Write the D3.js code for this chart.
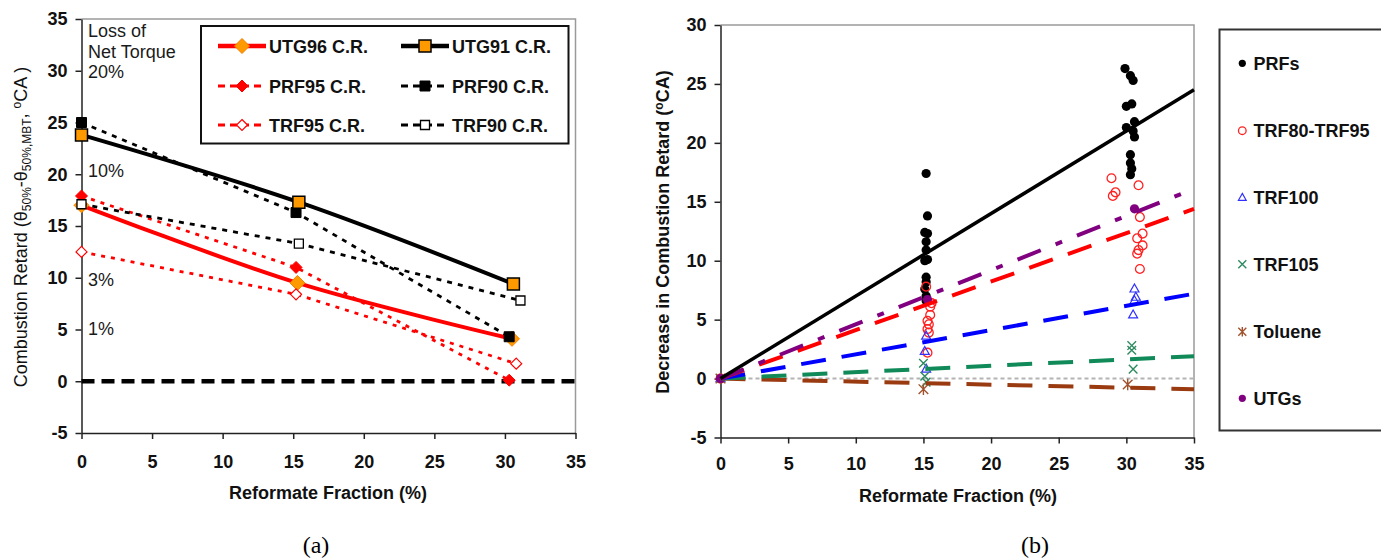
<!DOCTYPE html>
<html><head><meta charset="utf-8">
<script src="https://cdn.jsdelivr.net/npm/d3@7"></script>
<style>
html,body{margin:0;padding:0;background:#fff;}
svg{display:block;font-family:"Liberation Sans",Arial,sans-serif;}
</style></head><body>
<svg id="chart" width="1381" height="559"></svg>
<script>
// ================= Panel (a) data =================
const aSeriesNames = ["UTG96 C.R.", "UTG91 C.R.", "PRF95 C.R.", "PRF90 C.R.", "TRF95 C.R.", "TRF90 C.R."];
const utg96X = [0, 15.3, 30.5], utg96Y = [17.0, 9.5, 4.1];
const utg91X = [0, 15.4, 30.6], utg91Y = [23.8, 17.3, 9.4];
const prf95X = [0, 15.2, 30.3], prf95Y = [17.9, 11.0, 0.1];
const prf90X = [0, 15.2, 30.3], prf90Y = [25.0, 16.3, 4.3];
const trf95X = [0, 15.2, 30.8], trf95Y = [12.5, 8.4, 1.7];
const trf90X = [0, 15.4, 31.1], trf90Y = [17.1, 13.3, 7.8];
const aXTicks = [0, 5, 10, 15, 20, 25, 30, 35];
const aYTicks = [-5, 0, 5, 10, 15, 20, 25, 30, 35];
const torqueTitle = ["Loss of", "Net Torque"];
const torqueLabels = ["20%", "10%", "3%", "1%"];
const torqueY = [29.9, 20.3, 9.8, 5.1];

// ================= Panel (b) data =================
const prfX = [0, 15.2, 15.3, 15.1, 15.3, 15.2, 15.2, 15.3, 15.1, 15.2, 15.2, 15.1, 15.2, 15.2,
              29.9, 30.3, 30.5, 30.0, 30.4, 30.6, 30.0, 30.5, 30.6, 30.3, 30.3, 30.4, 30.3];
const prfY = [0, 17.4, 13.8, 12.4, 12.3, 11.6, 10.9, 10.1, 10.0, 8.6, 8.2, 7.6, 7.0, 6.6,
              26.3, 25.7, 25.3, 23.1, 23.3, 21.8, 21.3, 21.0, 20.5, 19.0, 18.3, 17.8, 17.3];
const trfX = [0, 15.2, 15.6, 15.5, 15.5, 15.3, 15.4, 15.3, 15.4, 15.3,
              28.9, 29.0, 29.2, 30.9, 31.0, 31.2, 30.8, 31.2, 30.9, 30.8, 31.0];
const trfY = [0, 7.8, 6.4, 6.1, 5.4, 4.9, 4.6, 4.2, 3.9, 2.2,
              17.0, 15.5, 15.8, 16.4, 13.7, 12.3, 11.9, 11.3, 10.9, 10.6, 9.3];
const trf100X = [0, 15.2, 15.1, 15.2, 30.6, 30.7, 30.6, 30.5];
const trf100Y = [0, 3.6, 2.3, 0.8, 7.6, 6.9, 6.6, 5.4];
const trf105X = [0, 15.0, 15.1, 15.2, 30.4, 30.4, 30.5];
const trf105Y = [0, 1.3, 0.2, -0.3, 2.8, 2.4, 0.8];
const tolX = [0, 15.0, 30.1], tolY = [0, -0.9, -0.5];
const utgX = [0, 15.3, 30.6], utgY = [0, 6.7, 14.4];
const bLegendNames = ["PRFs", "TRF80-TRF95", "TRF100", "TRF105", "Toluene", "UTGs"];
const trendNames = ["PRFs", "UTGs", "TRF80-TRF95", "TRF100", "TRF105", "Toluene"];
const trendEndX = [35, 35, 35, 35, 35, 35];
const trendEndY = [24.5, 16.1, 14.4, 7.2, 1.9, -0.9];
const bXTicks = [0, 5, 10, 15, 20, 25, 30, 35];
const bYTicks = [-5, 0, 5, 10, 15, 20, 25, 30];
const captions = ["(a)", "(b)"];

// ================= helpers =================
const svg = d3.select("#chart");
const diamond = h => `M0,${-h}L${h},0L0,${h}L${-h},0Z`;
const square = s => `M${-s/2},${-s/2}h${s}v${s}h${-s}Z`;
const triangle = s => `M0,${-s}L${s*0.9},${s*0.6}L${-s*0.9},${s*0.6}Z`;
const xmark = s => `M${-s},${-s}L${s},${s}M${-s},${s}L${s},${-s}`;
const star = s => `M${-s},${-s}L${s},${s}M${-s},${s}L${s},${-s}M0,${-s*1.2}L0,${s*1.2}`;
const circle = r => `M${r},0A${r},${r} 0 1,1 ${-r},0A${r},${r} 0 1,1 ${r},0Z`;
const zip = (xs, ys) => xs.map((x, i) => [x, ys[i]]);
const fmt = d => String(d);

function styleAxis(g) {
  g.selectAll(".domain").attr("stroke", "#222").attr("stroke-width", 1.5);
  g.selectAll(".tick line").attr("stroke", "#222").attr("stroke-width", 1.5);
  g.selectAll(".tick text").attr("font-size", 18).attr("font-weight", "bold").attr("fill", "#111")
    .attr("font-family", '"Liberation Sans",Arial,sans-serif');
}

// ================= Panel (a) =================
const xa = d3.scaleLinear().domain([0, 35]).range([81.5, 575.5]);
const ya = d3.scaleLinear().domain([-5, 35]).range([433, 19]);
const A = svg.append("g");

// frame (top/right)
A.append("path").attr("d", `M${xa(0)},${ya(35)}H${xa(35)}V${ya(-5)}`)
  .attr("fill", "none").attr("stroke", "#9a9a9a").attr("stroke-width", 1.5);

A.append("g").attr("transform", `translate(${xa(0)},0)`)
  .call(d3.axisLeft(ya).tickValues(aYTicks).tickSize(6).tickSizeOuter(0).tickPadding(8).tickFormat(fmt))
  .call(styleAxis);
A.append("g").attr("transform", `translate(0,${ya(-5)})`)
  .call(d3.axisBottom(xa).tickValues(aXTicks).tickSize(6).tickSizeOuter(0).tickPadding(16).tickFormat(fmt))
  .call(styleAxis);

// zero line
A.append("line").attr("x1", xa(0)).attr("x2", xa(35)).attr("y1", ya(0)).attr("y2", ya(0))
  .attr("stroke", "#000").attr("stroke-width", 4.5).attr("stroke-dasharray", "13,7");

const lineA = d3.line().x(d => xa(d[0])).y(d => ya(d[1]));
const smoothA = d3.line().x(d => xa(d[0])).y(d => ya(d[1])).curve(d3.curveCatmullRom.alpha(0.5));

const aSeries = [
  {name: aSeriesNames[0], data: zip(utg96X, utg96Y), color: "#ff0000", w: 4, dash: null, smooth: true,
   mark: diamond(7.5), mfill: "#ff9900", mstroke: "#f08000", msw: 1},
  {name: aSeriesNames[2], data: zip(prf95X, prf95Y), color: "#ff0000", w: 2.8, dash: "4,6",
   mark: diamond(6), mfill: "#ff0000", mstroke: "#ff0000", msw: 1},
  {name: aSeriesNames[4], data: zip(trf95X, trf95Y), color: "#ff0000", w: 2.8, dash: "4,6",
   mark: diamond(5.5), mfill: "#fff", mstroke: "#ff0000", msw: 1.2},
  {name: aSeriesNames[3], data: zip(prf90X, prf90Y), color: "#000", w: 2.8, dash: "5,6",
   mark: square(10), mfill: "#000", mstroke: "#000", msw: 1},
  {name: aSeriesNames[5], data: zip(trf90X, trf90Y), color: "#000", w: 2.8, dash: "5,6",
   mark: square(9), mfill: "#fff", mstroke: "#000", msw: 1.3},
  {name: aSeriesNames[1], data: zip(utg91X, utg91Y), color: "#000", w: 4, dash: null, smooth: true,
   mark: square(12), mfill: "#ff9900", mstroke: "#000", msw: 1.5}
];
aSeries.forEach(s => {
  A.append("path").attr("d", (s.smooth ? smoothA : lineA)(s.data)).attr("fill", "none")
    .attr("stroke", s.color).attr("stroke-width", s.w).attr("stroke-dasharray", s.dash);
  A.selectAll(null).data(s.data).enter().append("path")
    .attr("transform", d => `translate(${xa(d[0])},${ya(d[1])})`)
    .attr("d", s.mark).attr("fill", s.mfill).attr("stroke", s.mstroke).attr("stroke-width", s.msw);
});

// torque annotations
A.selectAll(null).data(torqueTitle).enter().append("text")
  .attr("x", 88).attr("y", (d, i) => 37 + i * 21).text(d => d)
  .attr("font-size", 18).attr("fill", "#1a1a1a");
A.selectAll(null).data(torqueLabels).enter().append("text")
  .attr("x", 88).attr("y", (d, i) => ya(torqueY[i])).attr("dy", "0.35em").text(d => d)
  .attr("font-size", 18).attr("fill", "#1a1a1a");

// legend (a)
A.append("rect").attr("x", 201).attr("y", 26).attr("width", 367.5).attr("height", 117.5)
  .attr("fill", "#fff").attr("stroke", "#111").attr("stroke-width", 2);
const legOrder = [0, 5, 1, 3, 2, 4]; // indexes into aSeries, row-wise: UTG96, UTG91, PRF95, PRF90, TRF95, TRF90
const legRows = [46, 86, 125];
legOrder.forEach((si, k) => {
  const s = aSeries[si];
  const col = k % 2, row = Math.floor(k / 2);
  const x0 = col === 0 ? 218 : 401, x1 = x0 + 48, cy = legRows[row];
  A.append("line").attr("x1", x0).attr("x2", x1).attr("y1", cy).attr("y2", cy)
    .attr("stroke", s.color).attr("stroke-width", s.dash ? 2.8 : 4.5).attr("stroke-dasharray", s.dash ? "7,5" : null);
  A.append("path").attr("transform", `translate(${(x0 + x1) / 2},${cy})`).attr("d", s.mark)
    .attr("fill", s.mfill).attr("stroke", s.mstroke).attr("stroke-width", s.msw);
  A.append("text").attr("x", x1 + 3).attr("y", cy + 6.5).text(s.name)
    .attr("font-size", 18).attr("font-weight", "bold").attr("fill", "#111");
});

// axis titles (a)
A.append("text").attr("x", 328).attr("y", 498.5).attr("text-anchor", "middle")
  .attr("font-size", 18).attr("font-weight", "bold").attr("fill", "#111").text("Reformate Fraction (%)");
const yt = A.append("text").attr("transform", "translate(27,227) rotate(-90)").attr("text-anchor", "middle")
  .attr("font-size", 18).attr("fill", "#111");
yt.append("tspan").text("Combustion Retard (θ");
yt.append("tspan").attr("font-size", 12).attr("dy", 4).text("50%");
yt.append("tspan").attr("dy", -4).text("-θ");
yt.append("tspan").attr("font-size", 12).attr("dy", 4).text("50%,MBT");
yt.append("tspan").attr("dy", -4).text(", ");
yt.append("tspan").attr("font-size", 12).attr("dy", -6).text("o");
yt.append("tspan").attr("dy", 6).text("CA )");

// ================= Panel (b) =================
const xb = d3.scaleLinear().domain([0, 35]).range([720.5, 1194]);
const yb = d3.scaleLinear().domain([-5, 30]).range([437.5, 25]);
const B = svg.append("g");

B.append("path").attr("d", `M${xb(0)},${yb(30)}H${xb(35)}V${yb(-5)}`)
  .attr("fill", "none").attr("stroke", "#9a9a9a").attr("stroke-width", 1.5);
B.append("g").attr("transform", `translate(${xb(0)},0)`)
  .call(d3.axisLeft(yb).tickValues(bYTicks).tickSize(6).tickSizeOuter(0).tickPadding(8).tickFormat(fmt))
  .call(styleAxis);
B.append("g").attr("transform", `translate(0,${yb(-5)})`)
  .call(d3.axisBottom(xb).tickValues(bXTicks).tickSize(6).tickSizeOuter(0).tickPadding(14).tickFormat(fmt))
  .call(styleAxis);

// zero reference line
B.append("line").attr("x1", xb(0)).attr("x2", xb(35)).attr("y1", yb(0)).attr("y2", yb(0))
  .attr("stroke", "#b4b4b4").attr("stroke-width", 2).attr("stroke-dasharray", "4,3");

const bSeries = [
  {name: "PRFs", data: zip(prfX, prfY), mark: circle(4.6), fill: "#000", stroke: "none", sw: 0, lmark: circle(3.6)},
  {name: "TRF80-TRF95", data: zip(trfX, trfY), mark: circle(4.4), fill: "none", stroke: "#ff2020", sw: 1.3, lmark: circle(3.8)},
  {name: "TRF100", data: zip(trf100X, trf100Y), mark: triangle(5), fill: "none", stroke: "#3030ff", sw: 1.2, lmark: triangle(4.3)},
  {name: "TRF105", data: zip(trf105X, trf105Y), mark: xmark(4.3), fill: "none", stroke: "#2e8b5f", sw: 1.4, lmark: xmark(4)},
  {name: "Toluene", data: zip(tolX, tolY), mark: star(4.8), fill: "none", stroke: "#a0522d", sw: 1.4, lmark: star(4)},
  {name: "UTGs", data: zip(utgX, utgY), mark: circle(4.6), fill: "#800080", stroke: "none", sw: 0, lmark: circle(3.6)}
];
bSeries.forEach(s => {
  B.selectAll(null).data(s.data).enter().append("path")
    .attr("transform", d => `translate(${xb(d[0])},${yb(d[1])})`)
    .attr("d", s.mark).attr("fill", s.fill).attr("stroke", s.stroke).attr("stroke-width", s.sw);
});

const trendStyle = {
  "PRFs": {c: "#000", w: 3.5, dash: null},
  "UTGs": {c: "#800080", w: 4, dash: "25,16,7,16"},
  "TRF80-TRF95": {c: "#ff0000", w: 4, dash: "25,16"},
  "TRF100": {c: "#0000ff", w: 4, dash: "25,16"},
  "TRF105": {c: "#108a58", w: 4, dash: "25,16"},
  "Toluene": {c: "#9a3a10", w: 4, dash: "25,16"}
};
const trendOrder = [5, 4, 3, 2, 1, 0];
trendOrder.forEach(i => {
  const st = trendStyle[trendNames[i]];
  B.append("line").attr("x1", xb(0)).attr("y1", yb(0)).attr("x2", xb(trendEndX[i])).attr("y2", yb(trendEndY[i]))
    .attr("stroke", st.c).attr("stroke-width", st.w).attr("stroke-dasharray", st.dash);
});

// legend (b)
B.append("rect").attr("x", 1219.5).attr("y", 29.5).attr("width", 200).attr("height", 401)
  .attr("fill", "none").attr("stroke", "#333").attr("stroke-width", 2);
const bLegY = [63.3, 130.7, 197.7, 264.3, 331.7, 398.3];
bLegendNames.forEach((n, i) => {
  const s = bSeries.find(t => t.name === n);
  B.append("path").attr("transform", `translate(1242.3,${bLegY[i]})`).attr("d", s.lmark)
    .attr("fill", s.fill).attr("stroke", s.stroke).attr("stroke-width", s.sw);
  B.append("text").attr("x", 1253.5).attr("y", bLegY[i] + 6.5).text(n)
    .attr("font-size", 18).attr("font-weight", "bold").attr("fill", "#111");
});

// axis titles (b)
B.append("text").attr("x", 958).attr("y", 502).attr("text-anchor", "middle")
  .attr("font-size", 18).attr("font-weight", "bold").attr("fill", "#111").text("Reformate Fraction (%)");
const yt2 = B.append("text").attr("transform", "translate(669,232) rotate(-90)").attr("text-anchor", "middle")
  .attr("font-size", 18).attr("font-weight", "bold").attr("fill", "#111");
yt2.append("tspan").text("Decrease in Combustion Retard (");
yt2.append("tspan").attr("font-size", 12).attr("dy", -6).text("o");
yt2.append("tspan").attr("dy", 6).text("CA)");

// captions
svg.selectAll(null).data(captions).enter().append("text")
  .attr("x", (d, i) => i === 0 ? 316 : 1035).attr("y", 553).attr("text-anchor", "middle")
  .attr("font-family", '"Liberation Serif","Times New Roman",serif').attr("font-size", 24).attr("fill", "#000")
  .text(d => d);
</script>
</body></html>
